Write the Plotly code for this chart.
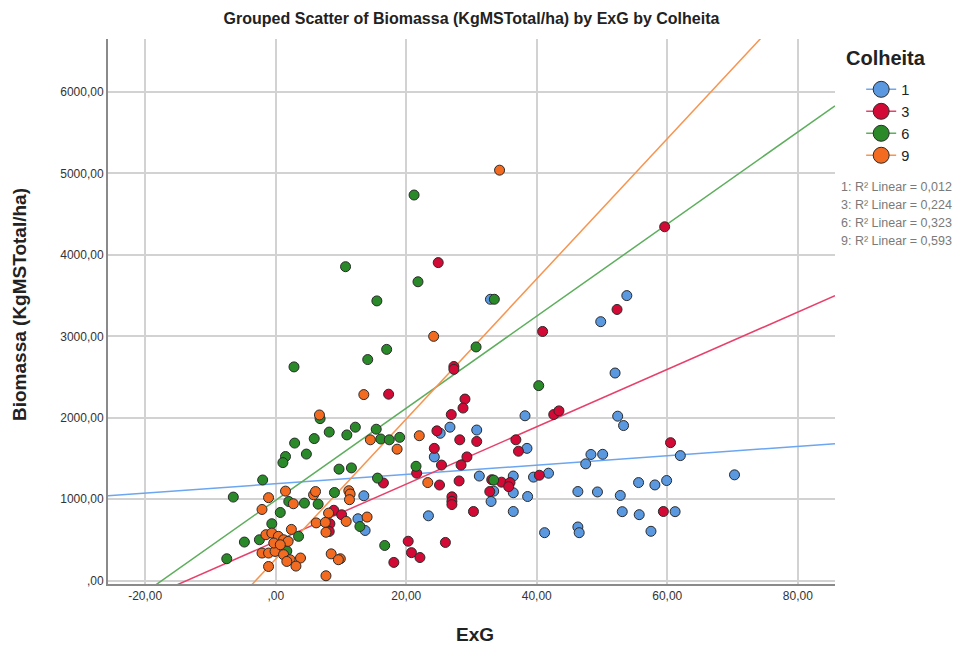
import plotly.graph_objects as go

# ---- data: ExG vs Biomassa (KgMSTotal/ha), grouped by Colheita ----
colheitas = ["1", "3", "6", "9"]

exg_1 = [53.8, 49.8, 52.0, 52.4, 53.3, 38.2, 38.5, 26.7, 30.8, 25.2, 24.3, 31.2, 36.4, 39.5,
         41.8, 47.5, 48.3, 50.1, 62.0, 70.3, 33.4, 36.4, 38.6, 33.0, 46.3, 49.3, 52.8, 55.6,
         58.1, 59.9, 36.4, 23.4, 41.2, 46.3, 46.5, 53.1, 55.7, 61.2, 57.5, 13.5, 12.6, 13.7, 32.9]
bio_1 = [3500, 3180, 2550, 2020, 1905, 2025, 1625, 1885, 1850, 1810, 1520, 1285, 1285, 1272,
         1320, 1435, 1550, 1552, 1536, 1300, 1100, 1080, 1034, 973, 1095, 1090, 1047, 1205,
         1176, 1230, 850, 797, 590, 660, 590, 848, 811, 848, 607, 1043, 761, 617, 3455]

exg_3 = [40.9, 27.3, 27.3, 17.3, 29.0, 28.7, 26.9, 42.6, 43.4, 24.7, 28.2, 30.8, 24.3, 29.3,
         25.4, 28.4, 36.8, 37.2, 16.5, 21.6, 25.1, 28.1, 33.1, 34.6, 35.9, 35.7, 32.8, 40.4,
         27.0, 27.0, 27.0, 30.3, 20.3, 20.8, 22.1, 26.0, 18.1, 59.6, 52.3, 24.9, 60.5, 59.4,
         8.9, 10.1, 8.3, 8.2]
bio_3 = [3060, 2630, 2595, 2290, 2230, 2120, 2040, 2040, 2085, 1840, 1730, 1710, 1625, 1520,
         1420, 1420, 1730, 1590, 1200, 1320, 1175, 1225, 1240, 1210, 1205, 1155, 1095, 1295,
         1030, 975, 935, 850, 485, 345, 285, 470, 225, 4345, 3330, 3905, 1695, 850,
         865, 810, 700, 605]

exg_6 = [21.2, 10.7, 21.8, 15.5, 33.5, 17.0, 14.1, 30.7, 40.3, 2.8, 6.8, 8.2, 10.9, 12.2,
         5.9, 2.9, 1.5, 1.1, 4.7, 15.4, 16.1, 17.4, 19.0, 9.7, 11.6, 15.6, 21.5, 33.4,
         -2.0, -6.5, 2.0, 4.4, 6.5, 9.0, 0.7, -0.6, 3.5, -4.8, -2.5, -7.5, 1.7, 12.9, 16.7]
bio_6 = [4735, 3855, 3670, 3435, 3455, 2840, 2715, 2870, 2395, 2625, 1990, 1825, 1790, 1885,
         1745, 1690, 1525, 1450, 1555, 1860, 1740, 1730, 1760, 1370, 1385, 1260, 1405, 1235,
         1237, 1027, 973, 953, 940, 1083, 838, 700, 545, 475, 503, 270, 365, 666, 433]

exg_9 = [34.3, 24.2, 13.5, 14.5, 18.6, 22.0, 23.3, 11.2, 11.4, 11.3, 10.8, 14.0, 9.9, 6.7,
         -1.1, -2.1, 1.5, 2.7, 5.8, 6.1, 8.1, 6.2, 7.6, 7.7, 2.4, -1.5, -0.6, 0.4, 1.2, 1.9,
         -2.1, -1.1, -0.1, 1.2, 2.2, 3.8, -1.1, 1.7, 3.1, -0.3, 0.7, 7.7, 8.5, 9.6]
bio_9 = [5040, 3000, 2285, 1730, 1615, 1780, 1205, 1105, 1065, 995, 728, 782, 270, 2035,
         1020, 875, 1100, 945, 1055, 1095, 830, 710, 716, 595, 630, 565, 585, 545, 503, 483,
         340, 340, 360, 320, 258, 279, 175, 237, 180, 463, 442, 61, 330, 258]

# linear fit per group (intercept, slope) and R²
fit_intercepts = [1190, 482, 988, 266]
fit_slopes = [5.73, 35.2, 56.5, 86.0]
r2_values = [0.012, 0.224, 0.323, 0.593]

x_ticks = [-20, 0, 20, 40, 60, 80]
y_ticks = [0, 1000, 2000, 3000, 4000, 5000, 6000]

# ---- styling ----
marker_colors = ["#5A98E0", "#D20A35", "#2A8A2A", "#F26B21"]
line_colors = ["#6CA6F0", "#E8406A", "#5DAE5D", "#F7944F"]
x_range = [-25.7, 85.7]
y_range = [-40, 6650]


def tick_fmt(v):
    # comma decimal, leading zero dropped (",00")
    s = f"{v:.2f}".replace(".", ",")
    if s.startswith("0,"):
        s = s[1:]
    return s


def r2_fmt(v):
    return f"{v:.3f}".replace(".", ",")


xs = [exg_1, exg_3, exg_6, exg_9]
ys = [bio_1, bio_3, bio_6, bio_9]

fig = go.Figure()

# fit lines drawn beneath the points
for i, name in enumerate(colheitas):
    lx = list(x_range)
    ly = [fit_intercepts[i] + fit_slopes[i] * v for v in lx]
    fig.add_trace(go.Scatter(
        x=lx, y=ly, mode="lines",
        line=dict(color=line_colors[i], width=1.5),
        showlegend=False, hoverinfo="skip"))

for i, name in enumerate(colheitas):
    fig.add_trace(go.Scatter(
        x=xs[i], y=ys[i], mode="markers", name=name,
        marker=dict(size=10, color=marker_colors[i],
                    line=dict(color="#2b2b2b", width=1)),
        showlegend=False))

# legend entries: marker on top of its fit line
for i, name in enumerate(colheitas):
    fig.add_trace(go.Scatter(
        x=[None], y=[None], mode="lines+markers", name=name,
        marker=dict(size=16, color=marker_colors[i],
                    line=dict(color="#2b2b2b", width=1)),
        line=dict(color=line_colors[i], width=1.5)))

# legend heading
fig.add_annotation(
    xref="paper", yref="paper", x=1.012, y=0.965,
    xanchor="left", yanchor="middle", showarrow=False,
    text="<b>Colheita</b>", font=dict(size=20, color="#222222", family="Arial"))

# R² notes under the legend
for i, name in enumerate(colheitas):
    fig.add_annotation(
        xref="paper", yref="paper", x=1.005, y=0.7285 - i * 0.033,
        xanchor="left", yanchor="middle", showarrow=False,
        text=f"{name}: R² Linear = {r2_fmt(r2_values[i])}",
        font=dict(size=12.5, color="#7a7a7a", family="Arial"))

# axis titles
fig.add_annotation(
    xref="paper", yref="paper", x=0.505, y=-0.092,
    xanchor="center", yanchor="middle", showarrow=False,
    text="<b>ExG</b>", font=dict(size=19, color="#222222", family="Arial"))
fig.add_annotation(
    xref="paper", yref="paper", x=-0.121, y=0.512, textangle=-90,
    xanchor="center", yanchor="middle", showarrow=False,
    text="<b>Biomassa (KgMSTotal/ha)</b>", font=dict(size=19, color="#222222", family="Arial"))

axis_common = dict(
    showgrid=True, gridcolor="#d2d2d2", gridwidth=2,
    showline=True, linecolor="#8a8a8a", linewidth=2,
    zeroline=False, ticks="", automargin=False,
    tickfont=dict(size=12, color="#333333", family="Arial"),
)

fig.update_xaxes(range=x_range, tickvals=x_ticks,
                 ticktext=[tick_fmt(v) for v in x_ticks], **axis_common)
fig.update_yaxes(range=y_range, tickvals=y_ticks,
                 ticktext=[tick_fmt(v) for v in y_ticks], **axis_common)

fig.update_layout(
    width=973, height=647,
    margin=dict(l=108, r=138, t=39, b=63),
    plot_bgcolor="white", paper_bgcolor="white",
    font=dict(family="Arial", color="#222222"),
    title=dict(text="<b>Grouped Scatter of Biomassa (KgMSTotal/ha) by ExG by Colheita</b>",
               x=0.5, xref="paper", y=0.972, yanchor="middle",
               font=dict(size=16, color="#222222", family="Arial")),
    legend=dict(
        x=1.036, xanchor="left", y=0.937, yanchor="top",
        font=dict(size=14.6, color="#222222"),
        itemsizing="trace", tracegroupgap=0,
        bgcolor="rgba(0,0,0,0)"),
)

fig.write_html("out.html")
